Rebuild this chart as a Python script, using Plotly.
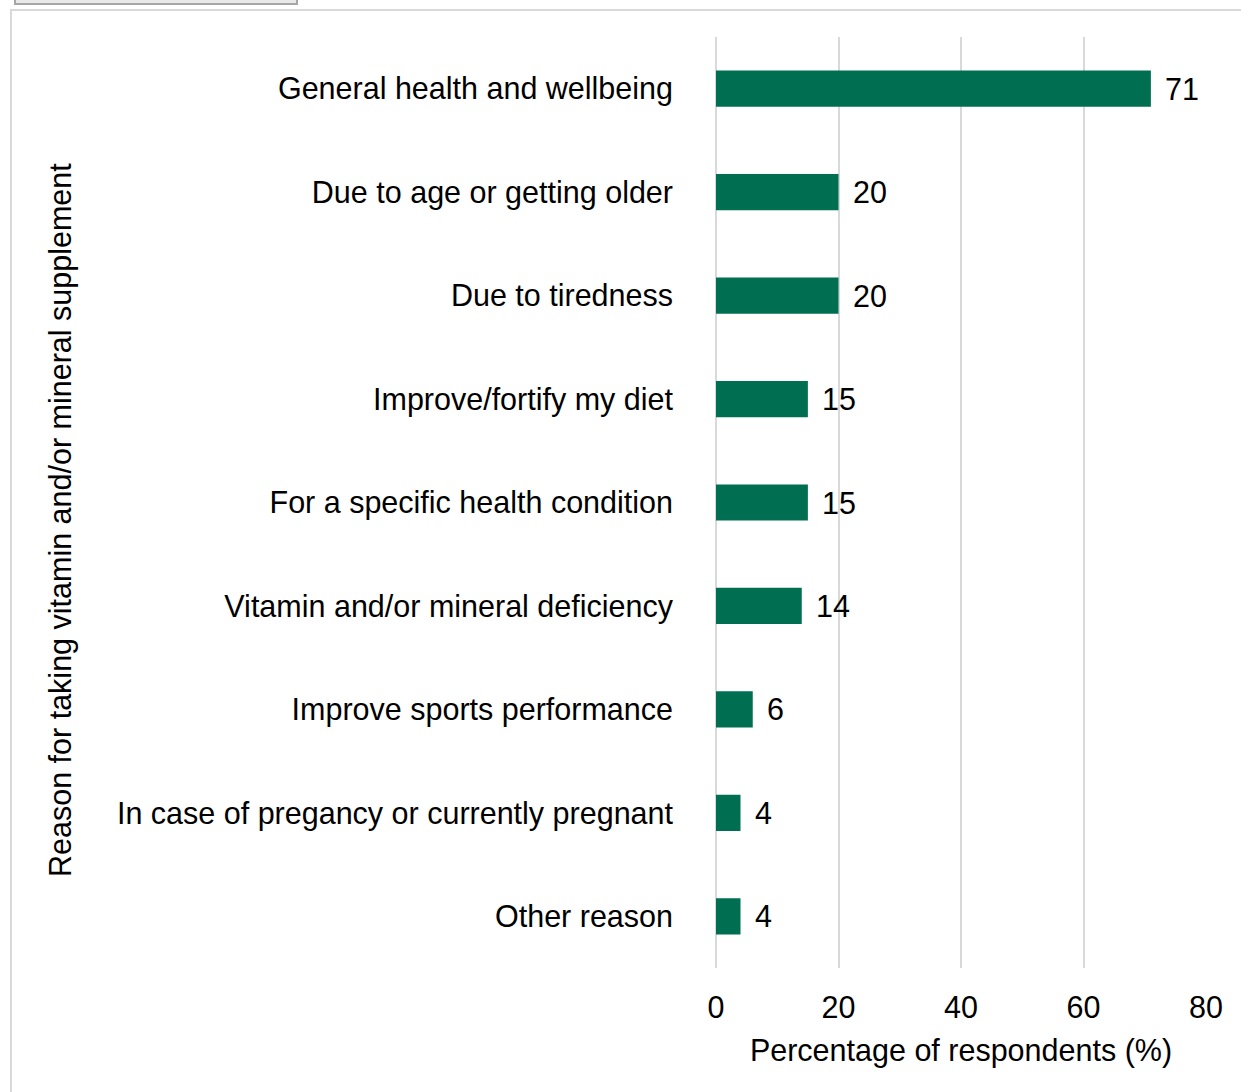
import plotly.graph_objects as go

categories = [
    "General health and wellbeing",
    "Due to age or getting older",
    "Due to tiredness",
    "Improve/fortify my diet",
    "For a specific health condition",
    "Vitamin and/or mineral deficiency",
    "Improve sports performance",
    "In case of pregancy or currently pregnant",
    "Other reason",
]
values = [71, 20, 20, 15, 15, 14, 6, 4, 4]
x_ticks = [0, 20, 40, 60, 80]

FONT = "Liberation Sans, Arial, sans-serif"
FS = 30.5
BAR_COLOR = "#006F51"

OFF = 0  # page body margin (set to 0 via post_script)
W, H = 1241, 1092
L, T = 716 - OFF, 37 - OFF
pw, ph = 490, 931
R = W - L - pw
B = H - T - ph

def px_x(p):
    return (p - OFF - L) / pw

def px_y(p):
    return (H - B - (p - OFF)) / ph

fig = go.Figure()
fig.add_trace(go.Bar(
    x=values,
    y=categories,
    orientation="h",
    marker=dict(color=BAR_COLOR, line=dict(width=0)),
    width=0.35,
    hoverinfo="x+y",
))

for c, v in zip(categories, values):
    fig.add_annotation(
        x=v, y=c, xref="x", yref="y",
        text=str(v), showarrow=False,
        xanchor="left", yanchor="middle", xshift=12,
        font=dict(family=FONT, size=FS, color="#000000"),
    )

# outer frame and top tab decoration
fig.add_shape(type="rect", xref="paper", yref="paper",
              x0=px_x(11), x1=px_x(1270), y0=px_y(1120), y1=px_y(10),
              line=dict(color="#d9d9d9", width=2), fillcolor="rgba(0,0,0,0)", layer="below")
fig.add_shape(type="rect", xref="paper", yref="paper",
              x0=px_x(15), x1=px_x(297), y0=px_y(4), y1=px_y(-10),
              line=dict(color="#a6a6a6", width=2), fillcolor="#e8e8e8", layer="below")

fig.update_layout(
    width=W, height=H,
    margin=dict(l=L, r=R, t=T, b=B, pad=0),
    paper_bgcolor="white", plot_bgcolor="white",
    font=dict(family=FONT, size=FS, color="#000000"),
    showlegend=False,
    bargap=0.65,
    xaxis=dict(
        range=[0, 80], tickvals=x_ticks, ticktext=[str(t) for t in x_ticks],
        showgrid=True, gridcolor="#d9d9d9", gridwidth=2,
        zeroline=True, zerolinecolor="#d9d9d9", zerolinewidth=2,
        showline=False, ticks="", ticklabelstandoff=18,
        tickfont=dict(family=FONT, size=FS, color="#000000"),
        title=dict(text="Percentage of respondents (%)", standoff=17,
                   font=dict(family=FONT, size=FS, color="#000000")),
    ),
    yaxis=dict(
        categoryorder="array", categoryarray=categories[::-1],
        showgrid=False, showline=False, ticks="", zeroline=False,
        ticklabelstandoff=42,
        tickfont=dict(family=FONT, size=FS, color="#000000"),
        title=dict(text=""),
    ),
)

fig.add_annotation(
    text="Reason for taking vitamin and/or mineral supplement",
    xref="paper", yref="paper", x=px_x(60), y=px_y(520),
    textangle=-90, showarrow=False, xanchor="center", yanchor="middle",
    font=dict(family=FONT, size=FS, color="#000000"),
)

fig.write_html("out.html", config={"displayModeBar": False},
               post_script="document.body.style.margin='0';")
